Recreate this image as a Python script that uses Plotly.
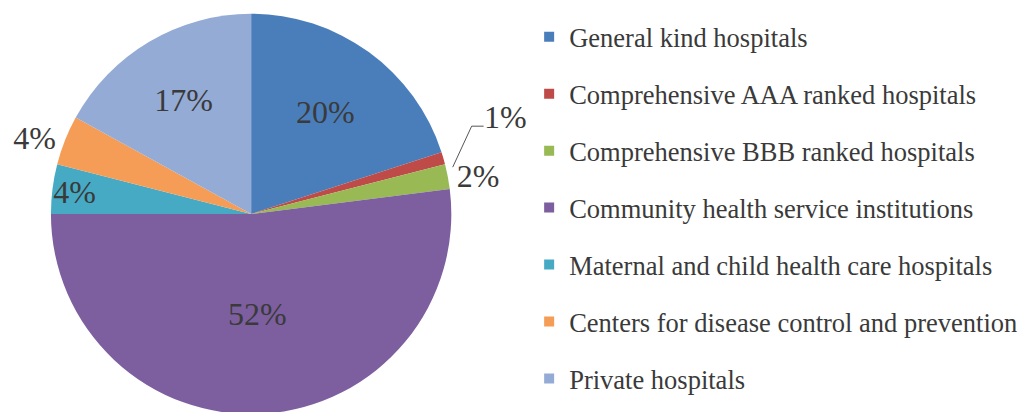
import plotly.graph_objects as go

# categories and shares (%)
labels = [
    "General kind hospitals",
    "Comprehensive AAA ranked hospitals",
    "Comprehensive BBB ranked hospitals",
    "Community health service institutions",
    "Maternal and child health care hospitals",
    "Centers for disease control and prevention",
    "Private hospitals",
]
shares = [20, 1, 2, 52, 4, 4, 17]
colors = ["#4A7EBB", "#BE4B48", "#98B954", "#7D5FA0", "#46AAC5", "#F59D56", "#94ABD6"]
text_pos = ["inside", "outside", "outside", "inside", "inside", "outside", "inside"]
# the 1% slice gets a leader-line label instead of a slice label
slice_text = ["%{percent:.0%}", "", "%{percent:.0%}", "%{percent:.0%}",
              "%{percent:.0%}", "%{percent:.0%}", "%{percent:.0%}"]

FONT = "Liberation Serif, Times New Roman, serif"
TXT = "#3a3a3a"
W, H = 1027, 412


def px(x, y):
    return x / W, 1 - y / H


fig = go.Figure()

fig.add_trace(go.Pie(
    labels=labels,
    values=shares,
    sort=False,
    direction="clockwise",
    rotation=0,
    marker=dict(colors=colors, line=dict(width=0)),
    texttemplate=slice_text,
    textposition=text_pos,
    insidetextorientation="horizontal",
    textfont=dict(family=FONT, size=32, color=TXT),
    domain=dict(x=[0.039, 0.43], y=[0, 1]),
    showlegend=False,
    hoverinfo="label+percent",
))

# legend entries (separate groups so the rows can be spaced like the original)
for i, (name, col) in enumerate(zip(labels, colors)):
    fig.add_trace(go.Scatter(
        x=[None], y=[None],
        mode="markers",
        name=name,
        legendgroup=f"g{i}",
        marker=dict(symbol="square", size=10, color=col),
        hoverinfo="skip",
    ))

# leader line + label for the small AAA slice
p0, p1, p2 = px(443, 158), px(462, 116), px(474, 116)
fig.add_shape(
    type="path", xref="paper", yref="paper",
    path=f"M {p0[0]},{p0[1]} L {p1[0]},{p1[1]} L {p2[0]},{p2[1]}",
    line=dict(color="#555555", width=1),
)
lx, ly = px(472, 107)
fig.add_annotation(
    x=lx, y=ly, xref="paper", yref="paper",
    xanchor="left", yanchor="middle", showarrow=False,
    text=f"{shares[1]}%",
    font=dict(family=FONT, size=32, color=TXT),
)

fig.update_layout(
    width=W,
    height=H,
    margin=dict(l=0, r=0, t=2, b=0),
    paper_bgcolor="white",
    plot_bgcolor="white",
    xaxis=dict(visible=False),
    yaxis=dict(visible=False),
    uniformtext=dict(minsize=32, mode="show"),
    legend=dict(
        x=0.506, y=1.0, xanchor="left", yanchor="top",
        font=dict(family=FONT, size=26.5, color=TXT),
        tracegroupgap=19.5,
        itemwidth=30,
        bgcolor="rgba(0,0,0,0)",
    ),
)

fig.write_html("out.html")
